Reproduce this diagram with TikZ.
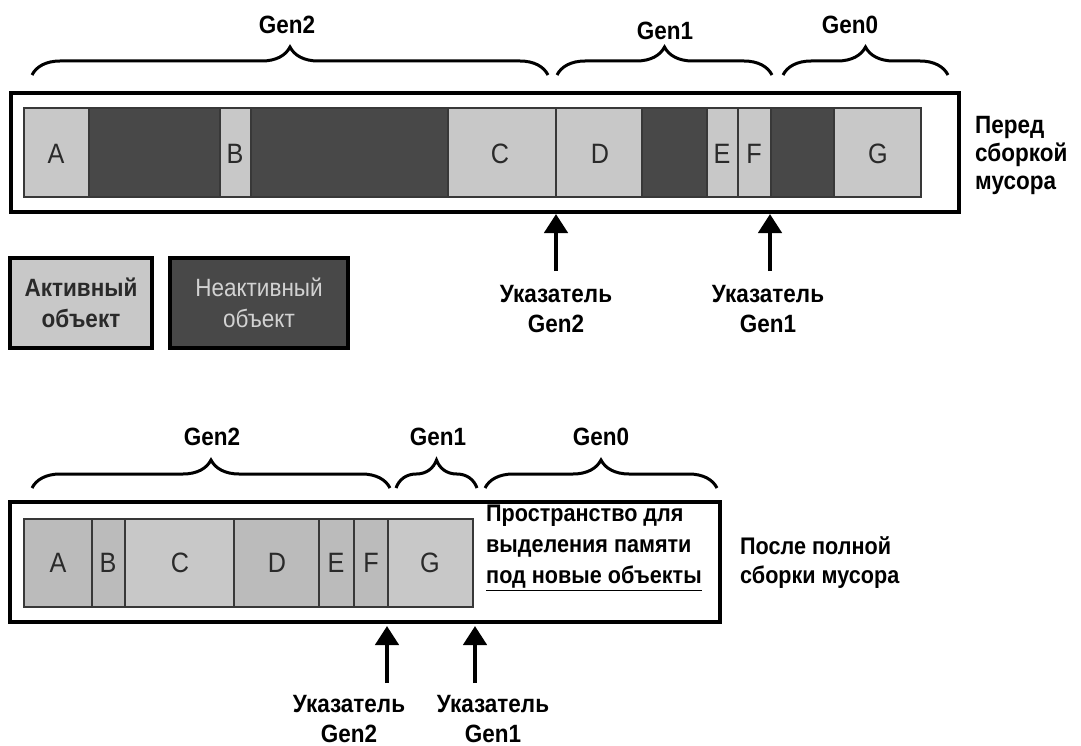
\documentclass[tikz,border=0pt]{standalone}
\usepackage{fontspec}
\setmainfont{Liberation Sans}[FakeStretch=0.9]
\usetikzlibrary{arrows.meta,decorations.pathreplacing}
\definecolor{livecol}{HTML}{C8C8C8}
\definecolor{livecoldk}{HTML}{BBBBBB}
\definecolor{deadcol}{HTML}{484848}
\definecolor{edgecol}{HTML}{383838}
\definecolor{textcol}{HTML}{2A2A2A}
\definecolor{fadecol}{HTML}{D2D2D2}

\tikzset{
	heap/.style={draw=black,line width=3.5pt},
	cell/.style={draw=edgecol,line width=2.5pt},
	gen/.style={decorate,decoration={brace,amplitude=28pt},line width=3pt},
	ptr/.style={-{Triangle[width=23pt,length=19pt]},line width=4.5pt},
	lbl/.style={font=\fontsize{25}{30}\selectfont\bfseries,align=center,inner sep=2pt},
	obj/.style={font=\fontsize{28}{30}\selectfont,text=textcol},
	legend/.style={draw=black,line width=3.5pt,align=center,minimum height=90pt,font=\fontsize{25}{31}\selectfont},
}

\begin{document}
\begin{tikzpicture}[x=1pt,y=-1pt]
\useasboundingbox (0,0) rectangle (1081,746);

% before collection
\draw[heap] (11,93) rectangle (959,212);
\foreach \a/\b/\col in {
	24/89/livecol, 89/220/deadcol, 220/251/livecol, 251/448/deadcol,
	448/556/livecol, 556/642/livecol, 642/707/deadcol, 707/738/livecol,
	738/771/livecol, 771/834/deadcol, 834/921/livecol%
	}{
	\filldraw[cell,fill=\col] (\a,108) rectangle (\b,197);
	}
\foreach \name/\x in {A/56,B/235,C/500,D/600,E/722,F/754,G/878}{
	\node[obj] (top\name) at (\x,154) {\name};
	}
\draw[gen] (32,75) -- (548,75);
\draw[gen] (557,75) -- (772,75);
\draw[gen] (783,75) -- (948,75);
\node[lbl] (topgentwo) at (287,25) {Gen2};
\node[lbl] (topgenone) at (665,31) {Gen1};
\node[lbl] (topgenzero) at (850,25) {Gen0};
\node[lbl,anchor=west,align=left,font=\fontsize{25}{28}\selectfont\bfseries] (before) at (973,155) {Перед\\сборкой\\мусора};

\coordinate (toptiptwo) at (556,214);
\coordinate (toptipone) at (770,214);
\node[lbl] (topptrtwo) at (556,309) {Указатель\\Gen2};
\node[lbl] (topptrone) at (768,309) {Указатель\\Gen1};
\draw[ptr,shorten <=12pt] (topptrtwo.north -| toptiptwo) -- (toptiptwo);
\draw[ptr,shorten <=12pt] (topptrone.north -| toptipone) -- (toptipone);

% legend
\node[legend,fill=livecol,text=textcol,minimum width=142pt] (keylive) at (81,303) {\bfseries Активный\\\bfseries объект};
\node[legend,fill=deadcol,text=fadecol,minimum width=178pt] (keydead) at (259,303) {Неактивный\\объект};

% after full collection
\draw[heap] (10,502) rectangle (720,622);
\foreach \a/\b/\col in {
	24/92/livecoldk, 92/125/livecoldk, 125/234/livecol, 234/319/livecoldk,
	319/354/livecoldk, 354/388/livecoldk, 388/473/livecol%
	}{
	\filldraw[cell,fill=\col] (\a,519) rectangle (\b,607);
	}
\foreach \name/\x in {A/58,B/108,C/180,D/277,E/336,F/371,G/430}{
	\node[obj] (low\name) at (\x,563) {\name};
	}
\draw[gen] (32,488) -- (390,488);
\draw[gen] (396,488) -- (477,488);
\draw[gen] (485,488) -- (717,488);
\node[lbl] (lowgentwo) at (212,437) {Gen2};
\node[lbl] (lowgenone) at (438,437) {Gen1};
\node[lbl] (lowgenzero) at (601,437) {Gen0};
\node[lbl,anchor=west,align=left,font=\fontsize{24}{31}\selectfont\bfseries] (freespace) at (484,548) {Пространство для\\выделения памяти\\\underline{под новые объекты}};
\node[lbl,anchor=west,align=left,font=\fontsize{24}{29}\selectfont\bfseries] (after) at (738,563) {После полной\\сборки мусора};

\coordinate (lowtiptwo) at (387,626);
\coordinate (lowtipone) at (475,626);
\node[lbl] (lowptrtwo) at (349,719) {Указатель\\Gen2};
\node[lbl] (lowptrone) at (493,719) {Указатель\\Gen1};
\draw[ptr,shorten <=10pt] (lowptrtwo.north -| lowtiptwo) -- (lowtiptwo);
\draw[ptr,shorten <=10pt] (lowptrone.north -| lowtipone) -- (lowtipone);
\end{tikzpicture}
\end{document}
